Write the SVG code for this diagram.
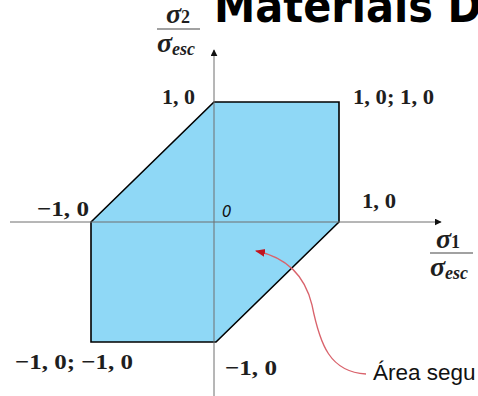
<svg xmlns="http://www.w3.org/2000/svg" width="478" height="396" viewBox="0 0 478 396">
<defs>
<marker id="ah" viewBox="0 0 10 10" refX="9" refY="5" markerWidth="7" markerHeight="7" markerUnits="userSpaceOnUse" orient="auto">
<path d="M0,0 L10,5 L0,10 Z" fill="#111"/>
</marker>
<marker id="ahr" viewBox="0 0 10 10" refX="9" refY="5" markerWidth="10" markerHeight="10" markerUnits="userSpaceOnUse" orient="auto-start-reverse">
<path d="M0,1 L10,5 L0,9 Z" fill="#c0141f"/>
</marker>
</defs>
<style>
.m{font-family:"Liberation Serif","DejaVu Serif",serif;font-weight:bold;fill:#1e1e1e;font-size:22px}
.s{font-family:"Liberation Serif","DejaVu Serif",serif;font-weight:bold;font-style:italic;fill:#1e1e1e}
.ax{stroke:#6e6e6e;stroke-width:1;fill:none}
</style>
<text x="214" y="22" font-family="DejaVu Sans, sans-serif" font-weight="bold" font-size="46" fill="#000" textLength="268" lengthAdjust="spacingAndGlyphs">Materiais D</text>
<g id="region">
<path d="M214,102 L339,102 L339,222 L216,342 L91,342 L91,222 Z" fill="#8fd8f6" stroke="#000" stroke-width="1.6" stroke-linejoin="miter"/>
</g>
<g id="axes">
<line class="ax" x1="214" y1="396" x2="214" y2="50" marker-end="url(#ah)"/>
<line class="ax" x1="10" y1="222" x2="441" y2="222" marker-end="url(#ah)"/>
</g>
<g id="connectors">
<path d="M256,251 C290,258 306,280 312,305 C320,345 330,372 366,374" fill="none" stroke="#d9636c" stroke-width="1.3" marker-start="url(#ahr)"/>
</g>
<g id="labels">
<text class="m" x="162" y="104" textLength="33" lengthAdjust="spacingAndGlyphs">1, 0</text>
<text class="m" x="353" y="104" textLength="81" lengthAdjust="spacingAndGlyphs">1, 0; 1, 0</text>
<text class="m" x="37" y="216" textLength="52" lengthAdjust="spacingAndGlyphs">−1, 0</text>
<text class="m" x="362" y="208" textLength="34" lengthAdjust="spacingAndGlyphs">1, 0</text>
<text class="m" x="15" y="369" textLength="118" lengthAdjust="spacingAndGlyphs">−1, 0; −1, 0</text>
<text class="m" x="225" y="375" textLength="52" lengthAdjust="spacingAndGlyphs">−1, 0</text>
<text x="222" y="217" font-family="DejaVu Sans, sans-serif" font-style="italic" font-size="15" fill="#111">0</text>
<text x="373" y="380" font-family="Liberation Sans, Arial, sans-serif" font-size="22.5" fill="#111">Área segu</text>
</g>
<g id="sigma2">
<text class="s" x="166" y="23" font-size="28">σ<tspan font-style="normal" font-size="18">2</tspan></text>
<line x1="157" y1="29" x2="200" y2="29" stroke="#444" stroke-width="1.2"/>
<text class="s" x="157" y="52" font-size="28">σ<tspan font-size="18" dy="3">esc</tspan></text>
</g>
<g id="sigma1">
<text class="s" x="436" y="248" font-size="28">σ<tspan font-style="normal" font-size="18">1</tspan></text>
<line x1="430" y1="253" x2="473" y2="253" stroke="#444" stroke-width="1.2"/>
<text class="s" x="430" y="276" font-size="28">σ<tspan font-size="18" dy="3">esc</tspan></text>
</g>
</svg>
